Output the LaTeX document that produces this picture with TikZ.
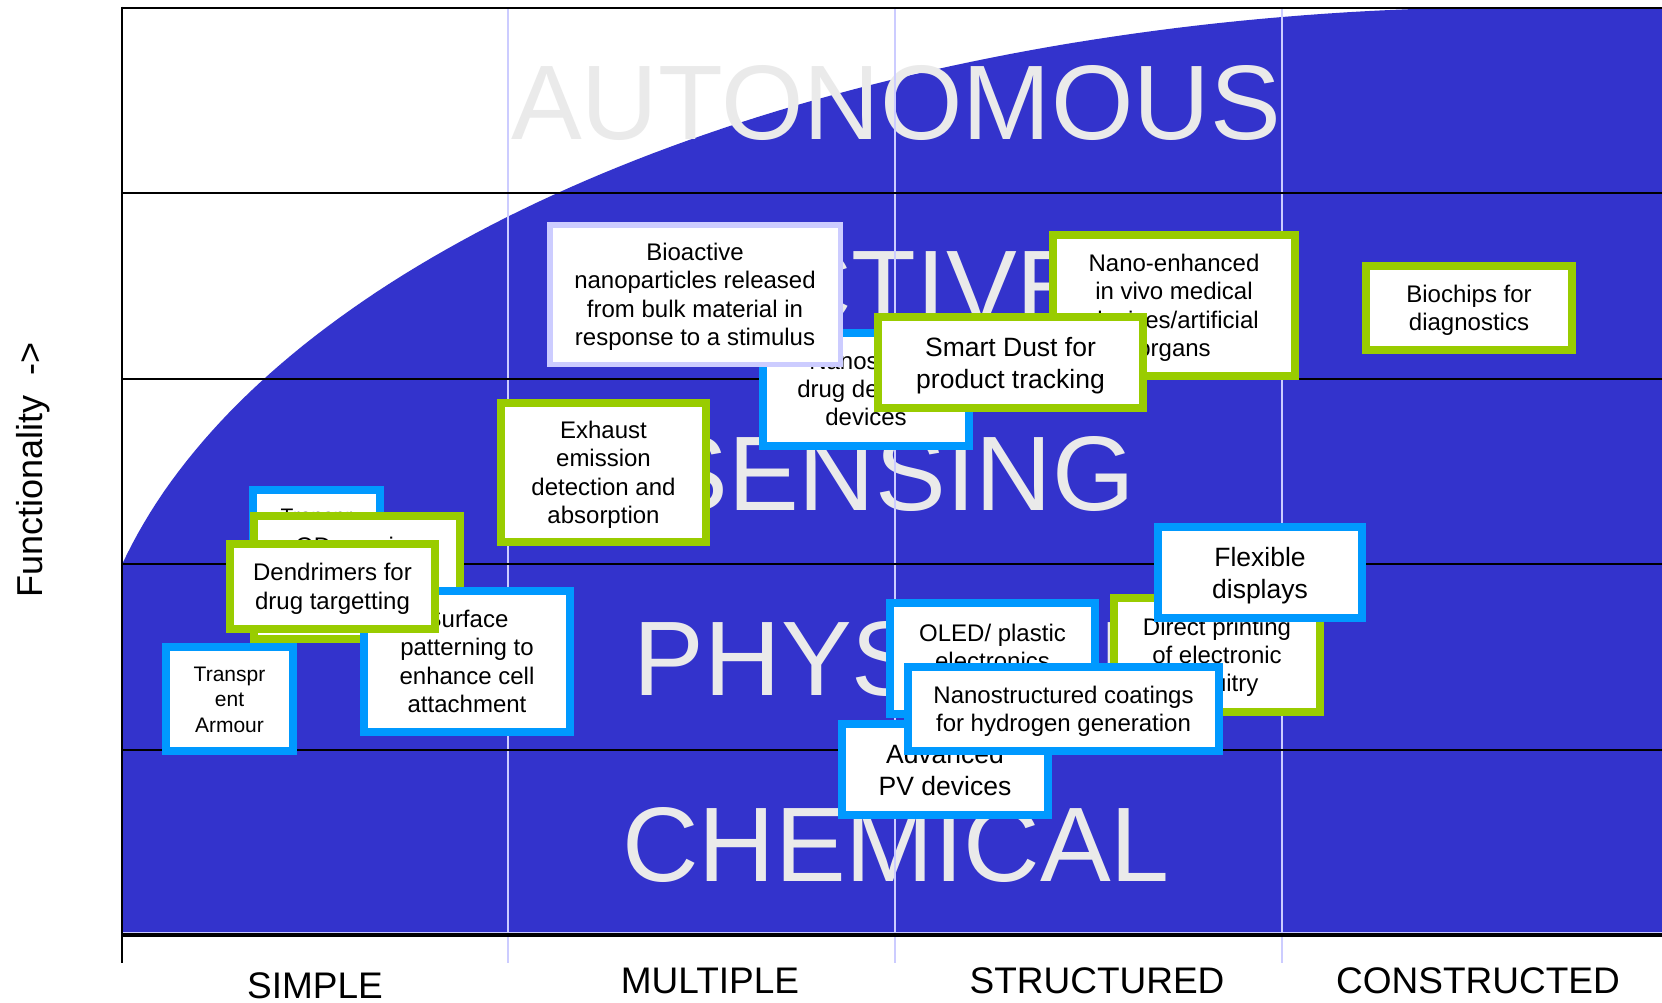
\documentclass[tikz,border=0pt]{standalone}
\usepackage{fontspec}
\setmainfont{Liberation Sans}
\usetikzlibrary{positioning}

\definecolor{chartblue}{RGB}{51,51,204}
\definecolor{leafgreen}{RGB}{153,204,0}
\definecolor{skyblue}{RGB}{0,153,255}
\definecolor{lavender}{RGB}{204,204,255}
\definecolor{ghost}{RGB}{234,234,234}

% text sizes used in the cards and labels
\newcommand\fsmall{\fontsize{21}{25.5}\selectfont}
\newcommand\fmid{\fontsize{24}{28.3}\selectfont}
\newcommand\flarge{\fontsize{26.5}{32}\selectfont}
\newcommand\fbig{\fontsize{106}{112}\selectfont}
\newcommand\faxis{\fontsize{37}{42}\selectfont}
% uniform line box so that multi-line cards centre evenly
\newcommand\lnstrut{\rule[-0.2\baselineskip]{0pt}{\baselineskip}}

\tikzset{
  card/.style={rectangle, fill=white, line width=8pt, inner sep=0pt, align=center, text=black},
  greencard/.style={card, draw=leafgreen},
  bluecard/.style={card, draw=skyblue},
  lilaccard/.style={card, draw=lavender, line width=5.5pt},
  cardtext/.style={inner sep=0pt, align=center, text=black},
  bigword/.style={inner sep=0pt, anchor=base, text=ghost, font=\fbig},
  axislabel/.style={inner sep=0pt, anchor=base, text=black, font=\faxis},
  rowrule/.style={draw=black, line width=2pt},
  colrule/.style={draw=lavender, line width=2pt},
}

\begin{document}
\begin{tikzpicture}[x=1pt, y=-1pt]
\useasboundingbox (0,0) rectangle (1662,1002);
\fill[white] (0,0) rectangle (1662,1002);

% growth region
\fill[chartblue] (122,935) -- (122,565)
  -- plot[domain=167:90, samples=90, variable=\t] ({1520+1435*cos(\t)}, {727-720*sin(\t)})
  -- (1662,7) -- (1662,935) -- cycle;
\draw[lavender, line width=1pt] (122,932.5) -- (1662,932.5);

% category words
\node[bigword] (autonomous) at (896,139) {AUTONOMOUS};
\node[bigword] (active)     at (896,324) {ACTIVE};
\node[bigword] (sensing)    at (896,510) {SENSING};
\node[bigword] (physical)   at (896,695) {PHYSICAL};
\node[bigword] (chemical)   at (896,881) {CHEMICAL};

% grid
\foreach \x in {508,895,1282}
  \draw[colrule] (\x,7) -- (\x,963);
\foreach \y in {193,379,564,750}
  \draw[rowrule] (122,\y) -- (1662,\y);
\draw[rowrule] (122,7.5) -- (1662,7.5);
\draw[draw=black, line width=3.5pt] (122,935) -- (1662,935);
\draw[rowrule] (122,6.5) -- (122,963);

% cards, back to front
\node[bluecard, minimum width=127pt, minimum height=106pt] (tbox) at (316.5,543) {};
\node[cardtext, font=\fsmall, anchor=base] (tboxtext) at (316.5,523) {Transpr};

\node[greencard, minimum width=206pt, minimum height=123pt] (qd) at (357,577.5) {};
\node[cardtext, font=\fmid, anchor=base] (qdtext) at (358,554.5) {QD sensing};

\node[bluecard, minimum width=206pt, minimum height=141pt, font=\fmid] (surface) at (467,661.5)
  {\lnstrut Surface\\\lnstrut patterning to\\\lnstrut enhance cell\\\lnstrut attachment};

\node[greencard, minimum width=205pt, minimum height=85pt, font=\fmid] (dendrimers) at (332.5,586.5)
  {\lnstrut Dendrimers for\\\lnstrut drug targetting};

\node[bluecard, minimum width=127pt, minimum height=104pt, font=\fsmall] (armour) at (229.5,699)
  {\lnstrut Transpr\\\lnstrut ent\\\lnstrut Armour};

\node[greencard, minimum width=205pt, minimum height=139pt, font=\fmid] (exhaust) at (603.5,472.5)
  {\lnstrut Exhaust\\\lnstrut emission\\\lnstrut detection and\\\lnstrut absorption};

\node[bluecard, minimum width=206pt, minimum height=113pt, font=\fmid] (nanosensor) at (866,389)
  {\lnstrut Nanoscale\\\lnstrut drug delivery\\\lnstrut devices};

\node[lilaccard, minimum width=290.5pt, minimum height=139.5pt, font=\fmid] (bioactive) at (695,294.5)
  {\lnstrut Bioactive\\\lnstrut nanoparticles released\\\lnstrut from bulk material in\\\lnstrut response to a stimulus};

\node[greencard, minimum width=242pt, minimum height=141pt, font=\fmid] (invivo) at (1174,305.5)
  {\lnstrut Nano-enhanced\\\lnstrut in vivo medical\\\lnstrut devices/artificial\\\lnstrut organs};

\node[greencard, minimum width=265pt, minimum height=91pt, font=\flarge] (smartdust) at (1010.5,362.5)
  {\lnstrut Smart Dust for\\\lnstrut product tracking};

\node[greencard, minimum width=206pt, minimum height=84pt, font=\fmid] (biochips) at (1469,308)
  {\lnstrut Biochips for\\\lnstrut diagnostics};

\node[bluecard, minimum width=205pt, minimum height=111pt] (oled) at (992.5,658.5) {};
\node[cardtext, font=\fmid] (oledtext) at (992.5,647)
  {\lnstrut OLED/ plastic\\\lnstrut electronics};

\node[bluecard, minimum width=206pt, minimum height=91pt, font=\flarge] (advpv) at (945,769.5)
  {\lnstrut Advanced\\\lnstrut PV devices};

\node[greencard, minimum width=206pt, minimum height=114pt, font=\fmid] (printing) at (1217,655)
  {\lnstrut Direct printing\\\lnstrut of electronic\\\lnstrut circuitry};

\node[bluecard, minimum width=204pt, minimum height=91pt, font=\flarge] (flexible) at (1260,572.5)
  {\lnstrut Flexible\\\lnstrut displays};

\node[bluecard, minimum width=311pt, minimum height=84pt, font=\fmid] (coatings) at (1063.5,709)
  {\lnstrut Nanostructured coatings\\\lnstrut for hydrogen generation};

% axis titles
\node[axislabel] (simple)      at (315,998.5) {SIMPLE};
\node[axislabel] (multiple)    at (710,993)   {MULTIPLE};
\node[axislabel] (structured)  at (1097,993)  {STRUCTURED};
\node[axislabel] (constructed) at (1478,993)  {CONSTRUCTED};
\node[inner sep=0pt, anchor=base, rotate=90, font=\fontsize{36}{40}\selectfont] (functionality)
  at (42,470) {Functionality\ \ ->};
\end{tikzpicture}
\end{document}
